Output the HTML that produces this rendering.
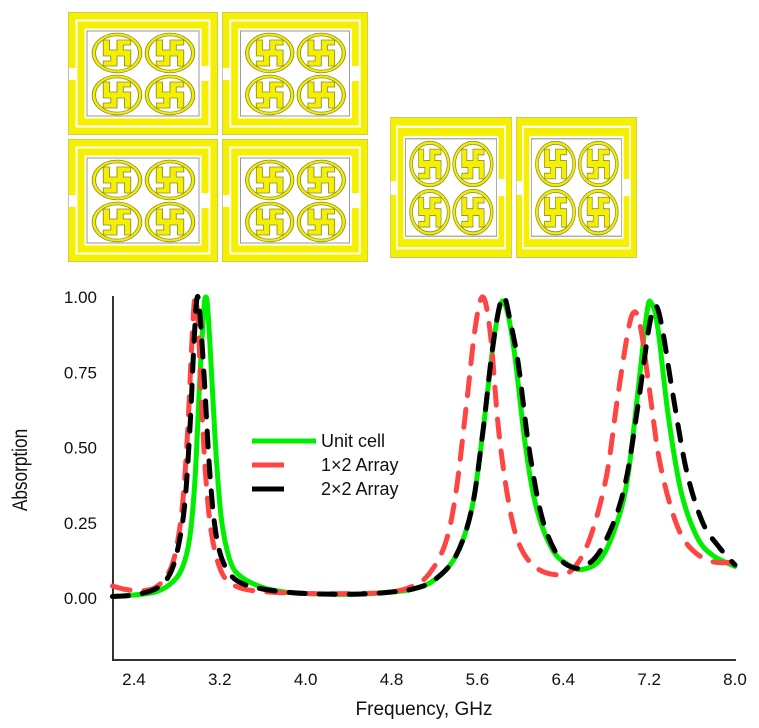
<!DOCTYPE html>
<html><head><meta charset="utf-8">
<style>
html,body{margin:0;padding:0;background:#fff;}
svg{display:block;font-family:"Liberation Sans",sans-serif;}
</style></head>
<body>
<svg id="fig" width="759" height="728" viewBox="0 0 759 728">
<defs>
<symbol id="ring" viewBox="0 0 40 40" preserveAspectRatio="none" overflow="visible">
  <ellipse cx="20" cy="20" rx="18.5" ry="18.5" fill="none" stroke="#8a8a30" stroke-width="3.4"/>
  <ellipse cx="20" cy="20" rx="18.5" ry="18.5" fill="none" stroke="#f2ee00" stroke-width="2"/>
  <path d="M9 7 h5 v10 h6 v-10 h11 v5 h-6 v5 h6 v16 h-5 v-10 h-6 v10 h-11 v-5 h6 v-5 h-6 z" fill="#f5f000" stroke="#8a8a30" stroke-width="0.7"/>
</symbol>
<symbol id="cell" viewBox="0 0 150 123" preserveAspectRatio="none">
  <rect x="0" y="0" width="150" height="123" fill="#fff" stroke="#aaa" stroke-width="1.5"/>
  <path d="M4 56 V4 H146 V119 H4 V68" fill="none" stroke="#f5f000" stroke-width="7" stroke-linejoin="miter"/>
  <path d="M137 54 V13 H13 V110 H137 V69" fill="none" stroke="#f5f000" stroke-width="7"/>
  <rect x="19" y="19" width="112" height="85" fill="none" stroke="#999" stroke-width="1"/>
  <use href="#ring" x="24" y="21" width="50" height="40"/>
  <use href="#ring" x="77" y="21" width="50" height="40"/>
  <use href="#ring" x="24" y="63" width="50" height="40"/>
  <use href="#ring" x="77" y="63" width="50" height="40"/>
</symbol>
</defs>

<g>
  <use href="#cell" x="68" y="12" width="150" height="123"/>
  <use href="#cell" x="222" y="12" width="146" height="123"/>
  <use href="#cell" x="68" y="139" width="150" height="123"/>
  <use href="#cell" x="222" y="139" width="146" height="123"/>
</g>
<g>
  <use href="#cell" x="390" y="117" width="122" height="141"/>
  <use href="#cell" x="516" y="117" width="121" height="141"/>
</g>

<g id="chart">
  <line x1="113" y1="296" x2="113" y2="661" stroke="#333" stroke-width="2"/>
  <line x1="112" y1="660" x2="736" y2="660" stroke="#333" stroke-width="2"/>
  <g id="yticks"></g>
  <g id="xticks"></g>
  <g id="series"></g>
  <text x="0" y="0" transform="translate(27,470) rotate(-90) scale(0.82,1)" text-anchor="middle" font-size="21" fill="#111">Absorption</text>
  <text x="424" y="715" text-anchor="middle" font-size="19" fill="#111">Frequency, GHz</text>
  <g>
    <g>
      <line x1="252" y1="441" x2="316" y2="441" stroke="#00ee00" stroke-width="5"/>
      <text x="321" y="447" font-size="18" fill="#111">Unit cell</text>
    </g>
    <g>
      <line x1="252" y1="465" x2="284" y2="465" stroke="#ff4444" stroke-width="5"/>
      <text x="321" y="471" font-size="18" fill="#111">1×2 Array</text>
    </g>
    <g>
      <line x1="252" y1="489" x2="284" y2="489" stroke="#000" stroke-width="5"/>
      <text x="321" y="495" font-size="18" fill="#111">2×2 Array</text>
    </g>
  </g>
</g>
</svg>
<script>
const yTickValues = [0, 0.25, 0.5, 0.75, 1.0];
const yTickLabels = ["0.00", "0.25", "0.50", "0.75", "1.00"];
const xTickValues = [2.4, 3.2, 4.0, 4.8, 5.6, 6.4, 7.2, 8.0];
const xTickLabels = ["2.4", "3.2", "4.0", "4.8", "5.6", "6.4", "7.2", "8.0"];

const unitFreq = [2.2,2.4,2.6,2.75,2.85,2.92,2.97,3.01,3.05,3.07,3.09,3.13,3.17,3.22,3.3,3.4,3.6,3.8,4.0,4.4,4.8,5.0,5.2,5.4,5.55,5.65,5.75,5.82,5.88,5.95,6.05,6.15,6.3,6.45,6.58,6.75,6.9,7.0,7.1,7.18,7.22,7.28,7.38,7.5,7.65,7.8,8.0];
const unitAbs  = [0.005,0.01,0.02,0.05,0.1,0.2,0.4,0.7,0.95,1.0,0.95,0.7,0.45,0.25,0.12,0.07,0.035,0.02,0.015,0.012,0.02,0.03,0.06,0.14,0.3,0.55,0.85,0.98,0.95,0.8,0.5,0.3,0.16,0.11,0.095,0.13,0.25,0.4,0.7,0.95,0.98,0.9,0.6,0.35,0.2,0.14,0.105];

const arr12Freq = [2.2,2.3,2.4,2.5,2.6,2.7,2.78,2.85,2.9,2.94,2.97,3.0,3.03,3.07,3.12,3.2,3.3,3.5,4.0,4.5,4.8,5.0,5.15,5.3,5.4,5.5,5.58,5.65,5.72,5.8,5.9,6.0,6.15,6.35,6.5,6.65,6.8,6.9,7.0,7.06,7.12,7.2,7.3,7.45,7.6,7.8,8.0];
const arr12Abs  = [0.04,0.03,0.025,0.025,0.035,0.07,0.14,0.3,0.55,0.85,1.0,0.9,0.65,0.4,0.22,0.1,0.05,0.025,0.015,0.015,0.02,0.04,0.08,0.18,0.35,0.65,0.9,1.0,0.88,0.55,0.3,0.17,0.1,0.077,0.1,0.2,0.4,0.65,0.88,0.95,0.9,0.7,0.45,0.25,0.16,0.12,0.12];

const arr22Freq = [2.2,2.4,2.6,2.72,2.8,2.87,2.92,2.96,2.99,3.02,3.06,3.1,3.15,3.22,3.35,3.6,4.0,4.5,4.8,5.0,5.2,5.4,5.55,5.65,5.73,5.8,5.85,5.9,5.98,6.08,6.2,6.35,6.5,6.62,6.75,6.9,7.0,7.1,7.2,7.26,7.32,7.42,7.55,7.7,7.85,8.0];
const arr22Abs  = [0.005,0.01,0.03,0.07,0.15,0.3,0.55,0.85,1.0,0.92,0.7,0.45,0.25,0.13,0.06,0.03,0.015,0.013,0.02,0.03,0.06,0.14,0.3,0.55,0.8,0.96,1.0,0.93,0.78,0.5,0.27,0.14,0.1,0.11,0.16,0.28,0.42,0.65,0.9,0.97,0.9,0.68,0.42,0.25,0.17,0.11];

const X0 = 113, X1 = 735, F0 = 2.205, F1 = 8.0;
const Y0 = 598, Y1 = 297;
function xScale(f){ return X0 + (f - F0) / (F1 - F0) * (X1 - X0); }
function yScale(v){ return Y0 + v * (Y1 - Y0); }
const NS = "http://www.w3.org/2000/svg";

const yt = document.getElementById('yticks');
yTickValues.forEach((v, i) => {
  const t = document.createElementNS(NS, 'text');
  t.setAttribute('x', 97);
  t.setAttribute('y', yScale(v) + 6);
  t.setAttribute('text-anchor', 'end');
  t.setAttribute('font-size', '17');
  t.setAttribute('fill', '#111');
  
  
  t.textContent = yTickLabels[i];
  yt.appendChild(t);
});
const xt = document.getElementById('xticks');
xTickValues.forEach((v, i) => {
  const t = document.createElementNS(NS, 'text');
  t.setAttribute('x', xScale(v));
  t.setAttribute('y', 685);
  t.setAttribute('text-anchor', 'middle');
  t.setAttribute('font-size', '17');
  t.setAttribute('fill', '#111');
  
  
  t.textContent = xTickLabels[i];
  xt.appendChild(t);
});

function smoothPath(fs, vs){
  const p = fs.map((f, i) => [xScale(f), yScale(vs[i])]);
  let d = 'M' + p[0][0].toFixed(1) + ' ' + p[0][1].toFixed(1);
  for (let i = 0; i < p.length - 1; i++) {
    const a = p[Math.max(0, i - 1)], b = p[i], c = p[i + 1], e = p[Math.min(p.length - 1, i + 2)];
    const c1 = [b[0] + (c[0] - a[0]) / 6, b[1] + (c[1] - a[1]) / 6];
    const c2 = [c[0] - (e[0] - b[0]) / 6, c[1] - (e[1] - b[1]) / 6];
    d += ' C' + c1[0].toFixed(1) + ' ' + c1[1].toFixed(1) + ' ' + c2[0].toFixed(1) + ' ' + c2[1].toFixed(1) + ' ' + c[0].toFixed(1) + ' ' + c[1].toFixed(1);
  }
  return d;
}
const sg = document.getElementById('series');
function addSeries(fs, vs, color, dash, name){
  const path = document.createElementNS(NS, 'path');
  path.setAttribute('d', smoothPath(fs, vs));
  path.setAttribute('fill', 'none');
  path.setAttribute('stroke', color);
  path.setAttribute('stroke-width', '5');
  path.setAttribute('stroke-linecap', 'round');
  if (dash) path.setAttribute('stroke-dasharray', dash);
  
  
  sg.appendChild(path);
}
addSeries(unitFreq, unitAbs, '#00ee00', null, 'unit-cell-line');
addSeries(arr12Freq, arr12Abs, '#ff4444', '18 14', 'array-1x2-line');
addSeries(arr22Freq, arr22Abs, '#000000', '16 14', 'array-2x2-line');
</script>
</body></html>
